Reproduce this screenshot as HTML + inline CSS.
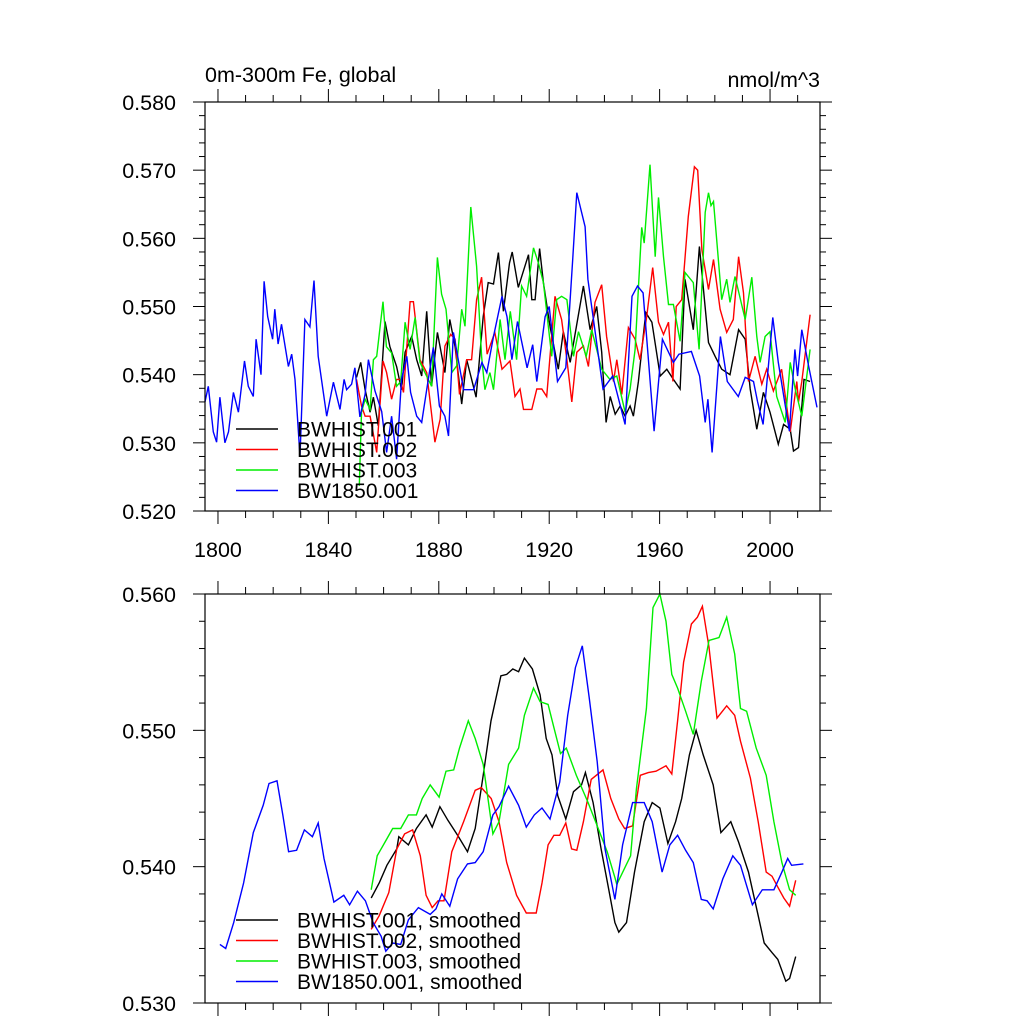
<!DOCTYPE html>
<html><head><meta charset="utf-8"><style>
html,body{margin:0;padding:0;background:#fff;}
svg{display:block;font-family:"Liberation Sans",sans-serif;}
</style></head><body>
<svg id="chart" width="1024" height="1024" viewBox="0 0 1024 1024" xmlns="http://www.w3.org/2000/svg">
<text x="205" y="82" font-size="21.5">0m-300m Fe, global</text>
<text x="820" y="87" font-size="21.5" text-anchor="end">nmol/m^3</text>
<g id="top"></g>
<g id="bot"></g>
</svg>
<script>
// ---- top panel data (annual, approximate) ----
const yearsBlue=[1795.3,1796.5,1798.3,1799.5,1800.7,1802.5,1803.8,1805.6,1807.4,1809.6,1811,1812.8,1813.8,1815.6,1816.7,1818,1819.8,1820.6,1821.8,1823,1825.5,1826.7,1827.9,1829.7,1831.5,1833.3,1834.8,1836.3,1839.4,1841.8,1844.2,1845.7,1846.6,1848.4,1849.6,1851.4,1853.3,1854.5,1856.9,1859.3,1861.1,1862.9,1864.7,1866.5,1868.4,1869.8,1872,1873.8,1875.6,1878,1880.2,1882.2,1883.5,1885.3,1889,1892.6,1895.6,1897.4,1899.8,1902.9,1904.7,1906.5,1908.5,1912,1914,1915.5,1918.5,1920,1923,1926,1928.5,1930,1933,1934,1939.5,1943,1947.5,1950,1952,1954,1958,1961,1965,1967,1971.5,1974.5,1976.5,1977.5,1979,1982,1984.5,1988.5,1991,1994,1995.5,1997.5,2001,2003,2007,2009,2010,2011.5,2014,2017];
const valsBlue=[0.536,0.5383,0.5316,0.5301,0.5367,0.530,0.5316,0.5374,0.5345,0.542,0.5383,0.5368,0.5452,0.540,0.5537,0.5485,0.5452,0.5496,0.5445,0.5474,0.5412,0.543,0.5393,0.528,0.5481,0.547,0.5538,0.5427,0.5339,0.5389,0.5349,0.5393,0.5378,0.5386,0.541,0.5338,0.5371,0.5422,0.5376,0.5346,0.5286,0.5339,0.5276,0.5393,0.5427,0.5374,0.5339,0.533,0.5378,0.544,0.5354,0.5339,0.531,0.5462,0.5378,0.5378,0.5418,0.5403,0.5456,0.5515,0.5485,0.5422,0.5478,0.541,0.5444,0.539,0.5485,0.550,0.539,0.541,0.5569,0.5667,0.5617,0.554,0.5379,0.5398,0.5327,0.5515,0.553,0.552,0.5317,0.5452,0.5418,0.543,0.5434,0.5398,0.533,0.5364,0.5286,0.5456,0.539,0.5368,0.5396,0.539,0.536,0.5327,0.5484,0.5418,0.5317,0.5437,0.5398,0.5466,0.5412,0.5352];
const yearsBlack=[1850.2,1851.7,1853.3,1855.1,1856.3,1858.1,1860.5,1862.3,1864.7,1866.5,1867.8,1870.2,1872,1873.8,1875.6,1877.4,1879.5,1882.2,1884,1885.9,1888.3,1890.1,1893.5,1896.1,1897.9,1899.8,1901.6,1903.4,1905.6,1906.6,1908.8,1912.5,1913.7,1914.9,1916.5,1917.9,1920.3,1923.3,1925.1,1927.6,1932.4,1934.8,1937.2,1939,1940.6,1942.1,1943.9,1945.7,1947.5,1949.3,1950.5,1952.3,1955,1957.2,1960.2,1962.6,1965,1967.4,1969.2,1972.2,1974.4,1977.7,1980.1,1982.5,1985.5,1988.6,1991,1992.8,1995.2,1997.6,2000,2003,2004.9,2007.3,2008.5,2010.3,2012.3,2014.5];
const valsBlack=[0.5396,0.5418,0.5378,0.5345,0.5367,0.5325,0.5478,0.5441,0.5412,0.5378,0.5433,0.5456,0.5422,0.5398,0.5493,0.5383,0.5462,0.5403,0.5481,0.5441,0.5357,0.5422,0.5367,0.5485,0.5535,0.5533,0.5579,0.5493,0.5564,0.558,0.5528,0.5576,0.551,0.551,0.5585,0.5535,0.5471,0.5408,0.5463,0.5418,0.553,0.5466,0.55,0.5433,0.533,0.5368,0.5342,0.5354,0.5339,0.5354,0.5339,0.539,0.5491,0.5477,0.5398,0.5408,0.5393,0.5379,0.554,0.5466,0.5588,0.5447,0.5427,0.5408,0.540,0.5466,0.5452,0.5379,0.532,0.5374,0.5345,0.5298,0.5327,0.532,0.5288,0.5293,0.5393,0.539];
const yearsRed=[1850.2,1852,1853.3,1855.1,1857.5,1859.8,1861.1,1862.9,1864.7,1866,1867.2,1869.6,1870.8,1873.2,1875.6,1878.6,1880.5,1882.2,1884.3,1885.9,1887.5,1890.1,1891.9,1893.7,1895.5,1897.5,1900.3,1902.9,1905.8,1907.6,1909.4,1910.7,1913.7,1915.5,1917.3,1919.1,1922.1,1924.5,1926.4,1928.2,1930,1932.4,1934.2,1936.6,1939,1940.8,1943.3,1944.5,1946.3,1948.7,1951.1,1952.9,1955.3,1957.5,1959.6,1961.4,1963.2,1964.8,1966,1968,1970.4,1972.6,1973.8,1975.3,1977.7,1979.5,1981.9,1984.3,1986.7,1988.6,1990.4,1992.2,1994.6,1997,1998.8,2001.2,2004.2,2007.3,2009.7,2010.3,2011.5,2014.5];
const valsRed=[0.5393,0.5354,0.5339,0.5339,0.5286,0.542,0.5403,0.5364,0.5393,0.5393,0.5374,0.5507,0.5507,0.5422,0.5403,0.5301,0.5335,0.5442,0.5459,0.5452,0.5371,0.5422,0.5422,0.551,0.5543,0.543,0.5462,0.5408,0.542,0.5368,0.5379,0.5349,0.5349,0.5379,0.5379,0.5368,0.5515,0.5481,0.5422,0.536,0.5433,0.5442,0.5412,0.5506,0.5532,0.5456,0.539,0.5422,0.5371,0.5469,0.5452,0.5422,0.5485,0.5557,0.5477,0.5459,0.5477,0.539,0.550,0.551,0.5632,0.5705,0.570,0.5583,0.5525,0.5569,0.5496,0.5462,0.5481,0.5573,0.552,0.539,0.5427,0.5386,0.5408,0.5376,0.5408,0.5316,0.539,0.536,0.539,0.5488];
const yearsGreen=[1851.2,1852,1853.3,1855.1,1856.3,1857.5,1859.8,1861,1862.9,1864.7,1866.2,1867.8,1869.6,1871.4,1873.2,1877.4,1879.5,1881,1882.6,1884.7,1886.5,1888.3,1889.5,1891.6,1893.7,1895.5,1896.7,1898.5,1899.8,1902.2,1904,1905.9,1908.2,1910,1911.8,1914.3,1916.1,1917.9,1920.9,1922.7,1924.5,1926.4,1928.8,1930.6,1933.4,1935.4,1939,1942,1944.5,1947.5,1949.3,1951.1,1953.5,1954.4,1956.5,1958.4,1959.6,1961.4,1963.2,1965,1967.4,1969.2,1972.2,1974.3,1976.5,1977.7,1978.6,1979.5,1982.5,1984.3,1985.5,1987.3,1991,1993.4,1995.2,1996.4,1998.2,2000,2002.4,2005.5,2007.3,2009.1,2011.5,2014.5];
const valsGreen=[0.5237,0.5345,0.5364,0.5349,0.5422,0.5427,0.5507,0.5441,0.5432,0.5383,0.539,0.5477,0.5437,0.5484,0.5418,0.5383,0.5572,0.5518,0.5496,0.5403,0.5413,0.5496,0.5471,0.5646,0.5559,0.5427,0.5378,0.5403,0.5378,0.5481,0.5422,0.5493,0.5422,0.553,0.5515,0.5586,0.5564,0.5535,0.5427,0.551,0.5515,0.551,0.5427,0.5463,0.5427,0.5466,0.5408,0.5393,0.5398,0.5345,0.5379,0.5437,0.5616,0.5593,0.5708,0.5573,0.566,0.5573,0.5503,0.5503,0.5449,0.555,0.5535,0.5437,0.5638,0.5667,0.5648,0.5654,0.551,0.554,0.5506,0.5544,0.5481,0.5543,0.5456,0.5418,0.5456,0.5463,0.5368,0.533,0.5418,0.5379,0.5339,0.5437];
// ---- bottom panel data (smoothed) ----
const yearsBlueS=[1800.7,1802.8,1805.7,1809.3,1812.8,1816.4,1818.5,1821.4,1823.5,1825.6,1828.5,1831.3,1834.2,1836.3,1838.4,1842,1845.6,1847.7,1850.5,1853.4,1856.2,1859.1,1860.8,1863.3,1866.2,1869,1872.6,1876.9,1879,1881.1,1884,1886.8,1890.4,1893.2,1896.1,1899.6,1901.8,1905.3,1908.9,1911.7,1914.6,1917.4,1920.3,1923.8,1926.7,1929.5,1932,1934.5,1937.4,1940.2,1943.8,1946.6,1950.2,1954.4,1957.3,1960.9,1963.7,1966.5,1969.4,1972.2,1975.1,1977.2,1979.4,1982.9,1986.5,1989.3,1993.6,1997.2,2001.4,2004.3,2006.4,2007.8,2012.1];
const valsBlueS=[0.5343,0.534,0.5359,0.5388,0.5425,0.5445,0.5461,0.5463,0.5438,0.5411,0.5412,0.5427,0.5422,0.5432,0.5406,0.5374,0.5379,0.5372,0.5382,0.5375,0.5359,0.5349,0.5338,0.5344,0.5343,0.5361,0.537,0.5365,0.5369,0.538,0.5371,0.5391,0.5402,0.5403,0.5411,0.5438,0.5444,0.5459,0.5445,0.5429,0.5438,0.5443,0.5435,0.5462,0.5511,0.5546,0.5562,0.5524,0.5477,0.5413,0.5376,0.5416,0.5447,0.5447,0.5433,0.5396,0.5416,0.5423,0.5412,0.5403,0.5376,0.5375,0.5369,0.5391,0.5408,0.5401,0.5372,0.5383,0.5383,0.5396,0.5406,0.5401,0.5402];
const yearsBlackS=[1855.5,1858.4,1861.2,1864.8,1865.5,1869,1871.9,1875.4,1877.6,1880.4,1883.3,1886.8,1890.4,1893.2,1896.1,1898.9,1902.5,1904.6,1906.8,1908.9,1911,1913.9,1916.7,1918.9,1921,1923.1,1926,1928.8,1931.7,1933.1,1935.9,1938.8,1941.6,1943.8,1945.2,1948,1950.9,1954.4,1957.3,1960.1,1963,1965.8,1968,1970.8,1973.2,1975.8,1979.4,1982.2,1985.8,1988.6,1992.2,1995.7,1997.9,2000.7,2002.8,2005.7,2007.1,2009.3];
const valsBlackS=[0.5377,0.5388,0.5401,0.5413,0.5422,0.5416,0.5428,0.5438,0.5429,0.5444,0.5434,0.5423,0.5411,0.5428,0.5467,0.5507,0.554,0.5541,0.5545,0.5543,0.5553,0.5545,0.5526,0.5494,0.5482,0.5452,0.5435,0.5455,0.546,0.5469,0.5447,0.5413,0.5383,0.5359,0.5352,0.5359,0.5396,0.5433,0.5447,0.5443,0.5417,0.5433,0.545,0.5482,0.55,0.5482,0.546,0.5425,0.5433,0.5418,0.5396,0.5364,0.5344,0.5337,0.5332,0.5316,0.5318,0.5334];
const yearsRedS=[1855.5,1858.4,1861.9,1864.8,1867.6,1870.5,1873.3,1875.4,1877.6,1879.7,1881.9,1884.7,1889,1893.2,1895.4,1899,1901.8,1904.6,1908.2,1911.7,1915.3,1917.4,1919.6,1921.7,1923.8,1926,1928.1,1930,1932.4,1935.2,1939.5,1942.3,1945.2,1947.3,1950.2,1953,1955.9,1958.7,1962.3,1964.4,1966.5,1968.7,1971.5,1973.7,1975.5,1977.9,1980.8,1984.3,1987.2,1989.3,1992.9,1995.7,1998.6,2000.7,2002.8,2005,2007.1,2009.3];
const valsRedS=[0.5354,0.5364,0.5381,0.5413,0.5424,0.5427,0.5408,0.5379,0.537,0.5375,0.5375,0.5411,0.5433,0.5456,0.5458,0.545,0.5433,0.5403,0.5379,0.5366,0.5366,0.5388,0.5416,0.5423,0.5423,0.5432,0.5413,0.5412,0.5433,0.5464,0.5471,0.545,0.5435,0.5428,0.543,0.5467,0.5469,0.547,0.5474,0.5468,0.5507,0.555,0.5578,0.5583,0.5591,0.5561,0.5509,0.5518,0.5511,0.5492,0.5465,0.5433,0.5396,0.5393,0.5385,0.5377,0.5371,0.539];
const yearsGreenS=[1855.5,1857.7,1860.5,1863.3,1866.2,1869,1871.9,1874,1876.9,1880.1,1882.6,1885.4,1887.5,1890.7,1893.2,1896.1,1899.6,1901.8,1905.3,1908.9,1911,1914.3,1916.7,1919.6,1921.7,1924.1,1926.2,1929.8,1934.1,1936.8,1941,1943.8,1944.5,1949.5,1951.6,1955.2,1957.6,1960.1,1962.3,1964.4,1966.5,1969.4,1972.2,1975.1,1977.9,1981.5,1984.3,1987.2,1989.3,1991.5,1995,1998.6,2001.4,2004.3,2007.1,2009.3];
const valsGreenS=[0.5383,0.5408,0.5418,0.5428,0.5428,0.5438,0.5438,0.545,0.546,0.5451,0.547,0.5471,0.5487,0.5507,0.5494,0.5475,0.5424,0.5433,0.5475,0.5487,0.5511,0.5531,0.5521,0.5519,0.5502,0.5483,0.5487,0.5467,0.5447,0.5433,0.5411,0.5392,0.5387,0.5408,0.5457,0.5516,0.559,0.560,0.558,0.5541,0.5531,0.5514,0.5497,0.5536,0.5566,0.5568,0.5583,0.5556,0.5516,0.5514,0.5487,0.5467,0.5433,0.5403,0.5383,0.5379];
const xTicks=[1800,1840,1880,1920,1960,2000];
const yTicksTop=[0.520,0.530,0.540,0.550,0.560,0.570,0.580];
const yTicksBot=[0.530,0.540,0.550,0.560];
const legendTop=["BWHIST.001","BWHIST.002","BWHIST.003","BW1850.001"];
const legendBot=["BWHIST.001, smoothed","BWHIST.002, smoothed","BWHIST.003, smoothed","BW1850.001, smoothed"];
const colors=["#000000","#ff0000","#00ee00","#0000ff"];

const NS="http://www.w3.org/2000/svg";
const L=205,R=820,X0=1795.3,X1=2018.1;
function xs(yr){return L+(yr-X0)/(X1-X0)*(R-L);}
function mk(tag,attrs,parent){const e=document.createElementNS(NS,tag);for(const k in attrs)e.setAttribute(k,attrs[k]);parent.appendChild(e);return e;}

function panel(g,T,B,ymin,ymax,yt,showX,series,legend,legY){
  const ys=v=>B-(v-ymin)/(ymax-ymin)*(B-T);
  series.forEach((s,i)=>{
    const p=mk('polyline',{points:s[0].map((yr,j)=>xs(yr).toFixed(1)+','+ys(s[1][j]).toFixed(1)).join(' '),fill:'none',stroke:colors[i],'stroke-width':1.4},g);
    
    
  });
  const fr=mk('rect',{x:L,y:T,width:R-L,height:B-T,fill:'none',stroke:'#000','stroke-width':1.2},g);
  
  
  for(let yr=1800;yr<=2010;yr+=10){
    const maj=(yr-1800)%40===0, len=maj?13:7, x=xs(yr);
    mk('line',{x1:x,x2:x,y1:B,y2:B+len,stroke:'#000','stroke-width':1},g);
    mk('line',{x1:x,x2:x,y1:T,y2:T-len,stroke:'#000','stroke-width':1},g);
  }
  if(showX) xTicks.forEach(yr=>{
    const t=mk('text',{x:xs(yr),y:B+46,'font-size':21.5,'text-anchor':'middle'},g);t.textContent=yr;
    
    
  });
  for(let v=ymin;v<=ymax+1e-9;v+=0.002){
    const k=Math.round((v-ymin)/0.002), maj=k%5===0, len=maj?12:6, y=ys(v);
    mk('line',{x1:L,x2:L-len,y1:y,y2:y,stroke:'#000','stroke-width':1},g);
    mk('line',{x1:R,x2:R+len,y1:y,y2:y,stroke:'#000','stroke-width':1},g);
  }
  yt.forEach(v=>{
    const t=mk('text',{x:176,y:ys(v)+8,'font-size':21.5,'text-anchor':'end'},g);t.textContent=v.toFixed(3);
    
    
  });
  legend.forEach((n,i)=>{
    const y=legY+i*20.5;
    const ln=mk('line',{x1:236,x2:278,y1:y,y2:y,stroke:colors[i],'stroke-width':1.4},g);
    
    
    const t=mk('text',{x:297,y:y+7.5,'font-size':21},g);t.textContent=n;
    
    
  });
}
panel(document.getElementById('top'),102,511,0.52,0.58,yTicksTop,true,
 [[yearsBlack,valsBlack],[yearsRed,valsRed],[yearsGreen,valsGreen],[yearsBlue,valsBlue]],legendTop,429);
panel(document.getElementById('bot'),594,1003,0.53,0.56,yTicksBot,false,
 [[yearsBlackS,valsBlackS],[yearsRedS,valsRedS],[yearsGreenS,valsGreenS],[yearsBlueS,valsBlueS]],legendBot,920);
</script>
</body></html>
